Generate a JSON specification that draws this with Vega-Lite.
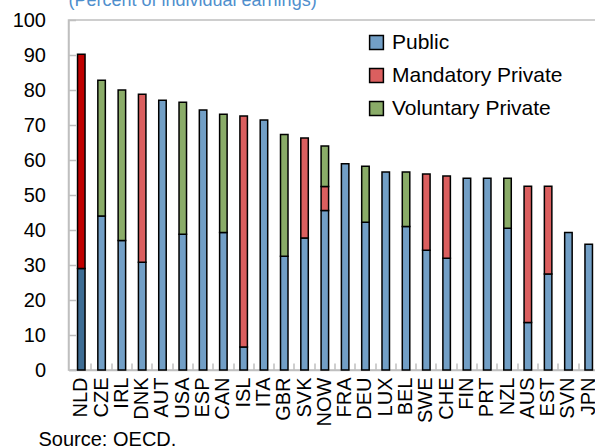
{
  "$schema": "https://vega.github.io/schema/vega-lite/v6.json",
  "autosize": {"type": "none"},
  "padding": {"left": 68.5, "top": 20, "right": 0, "bottom": 77},
  "width": 533,
  "height": 350,
  "background": "white",
  "title": {"text": "(Percent of individual earnings)", "anchor": "start", "frame": "group", "baseline": "alphabetic", "offset": -14, "fontSize": 18, "font": "Liberation Sans", "fontWeight": "normal", "color": "#4f8fcd"},
  "config": {"view": {"stroke": "#bfbfbf", "strokeWidth": 1.5}, "font": "Liberation Sans"},
  "data": {"values": [
    {"country": "NLD", "series": "Public (NLD)", "tier": 1, "value": 29.0},
    {"country": "NLD", "series": "Mandatory Private (NLD)", "tier": 2, "value": 61.2},
    {"country": "CZE", "series": "Public", "tier": 1, "value": 44.0},
    {"country": "CZE", "series": "Voluntary Private", "tier": 3, "value": 38.8},
    {"country": "IRL", "series": "Public", "tier": 1, "value": 37.0},
    {"country": "IRL", "series": "Voluntary Private", "tier": 3, "value": 43.0},
    {"country": "DNK", "series": "Public", "tier": 1, "value": 30.8},
    {"country": "DNK", "series": "Mandatory Private", "tier": 2, "value": 48.0},
    {"country": "AUT", "series": "Public", "tier": 1, "value": 77.1},
    {"country": "USA", "series": "Public", "tier": 1, "value": 38.8},
    {"country": "USA", "series": "Voluntary Private", "tier": 3, "value": 37.7},
    {"country": "ESP", "series": "Public", "tier": 1, "value": 74.3},
    {"country": "CAN", "series": "Public", "tier": 1, "value": 39.3},
    {"country": "CAN", "series": "Voluntary Private", "tier": 3, "value": 33.8},
    {"country": "ISL", "series": "Public", "tier": 1, "value": 6.6},
    {"country": "ISL", "series": "Mandatory Private", "tier": 2, "value": 66.0},
    {"country": "ITA", "series": "Public", "tier": 1, "value": 71.4},
    {"country": "GBR", "series": "Public", "tier": 1, "value": 32.5},
    {"country": "GBR", "series": "Voluntary Private", "tier": 3, "value": 34.8},
    {"country": "SVK", "series": "Public", "tier": 1, "value": 37.7},
    {"country": "SVK", "series": "Mandatory Private", "tier": 2, "value": 28.6},
    {"country": "NOW", "series": "Public", "tier": 1, "value": 45.6},
    {"country": "NOW", "series": "Mandatory Private", "tier": 2, "value": 6.8},
    {"country": "NOW", "series": "Voluntary Private", "tier": 3, "value": 11.6},
    {"country": "FRA", "series": "Public", "tier": 1, "value": 58.9},
    {"country": "DEU", "series": "Public", "tier": 1, "value": 42.2},
    {"country": "DEU", "series": "Voluntary Private", "tier": 3, "value": 16.0},
    {"country": "LUX", "series": "Public", "tier": 1, "value": 56.6},
    {"country": "BEL", "series": "Public", "tier": 1, "value": 41.0},
    {"country": "BEL", "series": "Voluntary Private", "tier": 3, "value": 15.6},
    {"country": "SWE", "series": "Public", "tier": 1, "value": 34.2},
    {"country": "SWE", "series": "Mandatory Private", "tier": 2, "value": 21.8},
    {"country": "CHE", "series": "Public", "tier": 1, "value": 31.9},
    {"country": "CHE", "series": "Mandatory Private", "tier": 2, "value": 23.5},
    {"country": "FIN", "series": "Public", "tier": 1, "value": 54.8},
    {"country": "PRT", "series": "Public", "tier": 1, "value": 54.8},
    {"country": "NZL", "series": "Public", "tier": 1, "value": 40.5},
    {"country": "NZL", "series": "Voluntary Private", "tier": 3, "value": 14.3},
    {"country": "AUS", "series": "Public", "tier": 1, "value": 13.6},
    {"country": "AUS", "series": "Mandatory Private", "tier": 2, "value": 38.9},
    {"country": "EST", "series": "Public", "tier": 1, "value": 27.4},
    {"country": "EST", "series": "Mandatory Private", "tier": 2, "value": 25.1},
    {"country": "SVN", "series": "Public", "tier": 1, "value": 39.3},
    {"country": "JPN", "series": "Public", "tier": 1, "value": 35.9}
  ]},
  "mark": {"type": "bar", "size": 7.5, "stroke": "black", "strokeWidth": 1.5},
  "encoding": {
    "x": {
      "field": "country", "type": "nominal", "sort": null,
      "scale": {"paddingInner": 0, "paddingOuter": 0.13},
      "axis": {
        "title": "Source: OECD.", "titleX": -30.5, "titleY": 75, "titleAlign": "left", "titleAnchor": "start", "titleBaseline": "alphabetic",
        "titleFontSize": 20, "titleFontWeight": "normal", "titleColor": "black", "titleFont": "Liberation Sans",
        "labelAngle": -90, "labelFontSize": 20, "labelColor": "black", "labelFont": "Liberation Sans", "labelPadding": 14,
        "tickSize": -7, "tickColor": "#bfbfbf", "tickWidth": 1.5, "bandPosition": 1,
        "domainColor": "#bfbfbf", "domainWidth": 1.5
      }
    },
    "y": {
      "field": "value", "type": "quantitative", "stack": "zero",
      "scale": {"domain": [0, 100], "nice": false},
      "axis": {
        "values": [0, 10, 20, 30, 40, 50, 60, 70, 80, 90, 100],
        "title": null, "grid": false,
        "labelFontSize": 20, "labelColor": "black", "labelFont": "Liberation Sans", "labelPadding": 30,
        "tickSize": -7, "tickColor": "#bfbfbf", "tickWidth": 1.5,
        "domainColor": "#bfbfbf", "domainWidth": 1.5
      }
    },
    "order": {"field": "tier", "type": "quantitative", "sort": "ascending"},
    "color": {
      "field": "series", "type": "nominal",
      "scale": {
        "domain": ["Public (NLD)", "Public", "Mandatory Private (NLD)", "Mandatory Private", "Voluntary Private"],
        "range": ["#3e6d94", "#729fc6", "#c00000", "#db5f5f", "#8aac68"]
      },
      "legend": {
        "values": ["Public", "Mandatory Private", "Voluntary Private"],
        "title": null, "orient": "none", "legendX": 297.5, "legendY": 12,
        "symbolType": "square", "symbolSize": 190, "symbolStrokeColor": "black", "symbolStrokeWidth": 1.5,
        "labelFontSize": 21, "labelFont": "Liberation Sans", "labelColor": "black", "labelOffset": 5, "labelLimit": 0,
        "rowPadding": 11, "padding": 0
      }
    }
  }
}
